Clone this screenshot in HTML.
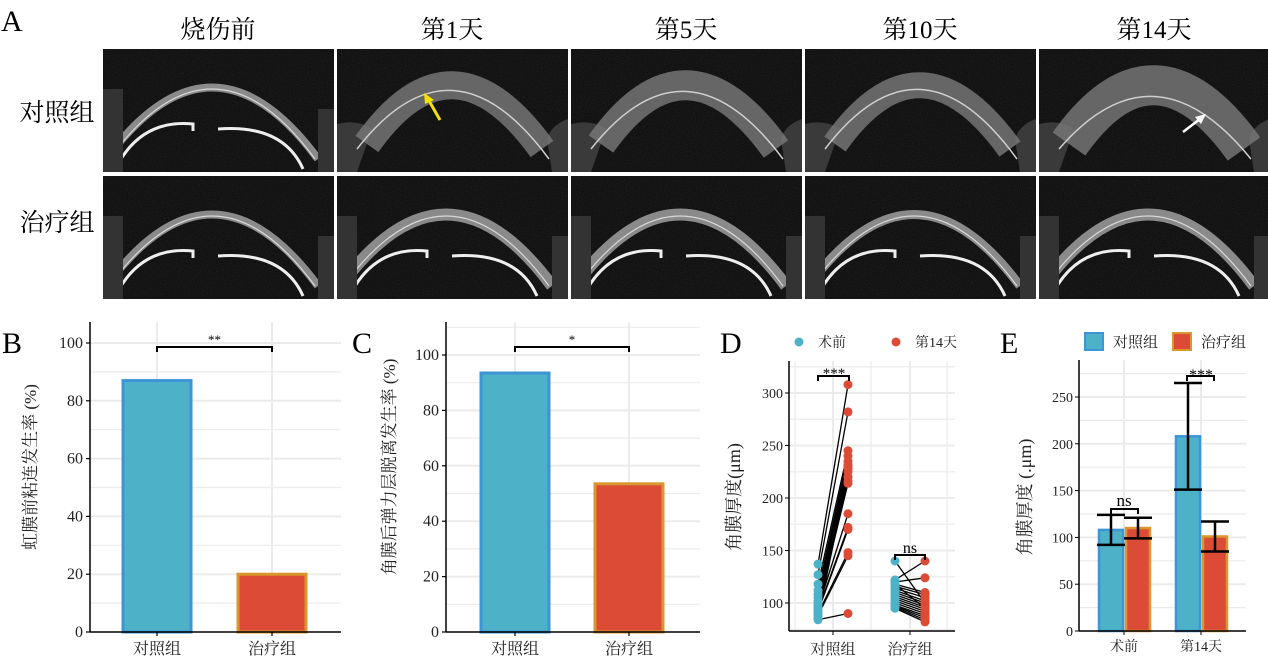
<!DOCTYPE html>
<html><head><meta charset="utf-8">
<style>
html,body{margin:0;padding:0;background:#fff;}
svg{display:block;font-family:"Liberation Serif","Noto Serif CJK SC","Noto Sans CJK SC",serif;}
</style></head>
<body>
<svg id="fig" width="1268" height="664" viewBox="0 0 1268 664" xmlns="http://www.w3.org/2000/svg">
<defs>
<filter id="noise" x="0" y="0" width="100%" height="100%">
<feTurbulence type="fractalNoise" baseFrequency="0.9" numOctaves="1" seed="3"/>
<feColorMatrix values="0 0 0 0 0.5  0 0 0 0 0.5  0 0 0 0 0.5  0 0 0 0.14 0"/>
<feComposite in2="SourceGraphic" operator="in"/>
</filter>
</defs>
<g id="panelA"></g>
<g id="panelB"></g>
<g id="panelC"></g>
<g id="panelD"></g>
<g id="panelE"></g>
</svg>
<script>
// ---------- data ----------
const groupsBC = ["对照组","治疗组"];
const valuesB = [87, 20];
const valuesC = [93.5, 53.5];
const ticksB = [0,20,40,60,80,100];
const ticksC = [0,20,40,60,80,100];
const groupsD = ["对照组","治疗组"];
const ctrlPre  = [137,127,118,112,108,105,102,100,98,96,95,93,92,90,88,86,85,84];
const ctrlPost = [308,282,245,240,235,232,228,220,216,214,185,172,170,148,145,230,225,90];
const trtPre   = [140,122,120,118,116,114,112,110,108,106,104,102,100,98,97,96,95,118];
const trtPost  = [100,140,124,110,108,105,102,100,98,96,94,92,90,88,86,84,82,95];
const ticksD = [100,150,200,250,300];
const groupsE = ["术前","第14天"];
const meanCtrlE = [108, 208];
const sdCtrlE = [16, 57];
const meanTrtE = [110, 101];
const sdTrtE = [11, 16];
const ticksE = [0,50,100,150,200,250];

const NS="http://www.w3.org/2000/svg";
function mk(parent, tag, attrs, text){
  const e=document.createElementNS(NS,tag);
  for(const k in attrs) e.setAttribute(k,attrs[k]);
  if(text!==undefined) e.textContent=text;
  parent.appendChild(e); return e;
}
const BLUE="#4db2c8", BLUE_S="#3d94d6", RED="#dc4b36", RED_S="#d9972c", GRID="#ebebeb";

// ---------- Panel A ----------
const A=document.getElementById('panelA');
let t=mk(A,'text',{x:1,y:31,'font-size':30});t.textContent="A";

const heads=["烧伤前","第1天","第5天","第10天","第14天"];
const colX=[103,337,571,805,1039];
heads.forEach((h,i)=>{
  const e=mk(A,'text',{x:colX[i]+115,y:38,'font-size':25,'text-anchor':'middle'},h);
  
  
});
[["对照组",112],["治疗组",222]].forEach(r=>{
  const e=mk(A,'text',{x:57,y:r[1]+9,'font-size':25,'text-anchor':'middle'},r[0]);
  
  
});
const rowY=[49,176];
const thick=[[6,28,30,26,40],[6,10,10,7,10]];
rowY.forEach((ry,r)=>{
  colX.forEach((cx,c)=>{
    const g=mk(A,'g',{transform:`translate(${cx},${ry})`});
    
    
    mk(g,'rect',{x:0,y:0,width:231,height:123,fill:'#080808'});
    mk(g,'rect',{x:0,y:0,width:231,height:123,fill:'#fff',filter:'url(#noise)'});
    const th=thick[r][c];
    if(r===0 && c>0){
      mk(g,'path',{d:`M 0 75 Q 20 70 35 80 L 20 123 L 0 123 Z`,fill:'#3a3a3a'});
      mk(g,'path',{d:`M 231 70 Q 215 75 210 90 L 215 123 L 231 123 Z`,fill:'#3a3a3a'});
      mk(g,'path',{d:`M 30 95 Q 115 -25 205 100`,fill:'none',stroke:'#7a7a7a','stroke-width':th,'stroke-opacity':0.8});
      mk(g,'path',{d:`M 20 100 Q 115 -${50-th} 212 110`,fill:'none',stroke:'#cfcfcf','stroke-width':1.5});
    } else {
      mk(g,'path',{d:`M 15 95 Q 115 -25 215 110`,fill:'none',stroke:'#8a8a8a','stroke-width':th+2});
      mk(g,'path',{d:`M 18 95 Q 115 -22 212 110`,fill:'none',stroke:'#d8d8d8','stroke-width':1.2});
      mk(g,'path',{d:`M 15 115 Q 40 70 90 75 L 90 82 M 115 80 Q 180 75 200 120`,fill:'none',stroke:'#eeeeee','stroke-width':3});
      mk(g,'rect',{x:0,y:40,width:20,height:83,fill:'#333'});
      mk(g,'rect',{x:215,y:60,width:16,height:63,fill:'#333'});
    }
  });
});
mk(A,'line',{x1:440,y1:120,x2:428,y2:99,stroke:'#f5e000','stroke-width':3});
mk(A,'path',{d:'M 424 93 L 434 100 L 425 104 Z',fill:'#f5e000'});
mk(A,'line',{x1:1183,y1:132,x2:1200,y2:119,stroke:'#fff','stroke-width':2.5});
mk(A,'path',{d:'M 1206 114 L 1201 124 L 1195 117 Z',fill:'#fff'});

// ---------- generic bar chart for B, C ----------
function barChart(gid, letter, letterX, ax, right, y0, y100, vals, ticks, title, titleX, sig, gx){
  const G=document.getElementById(gid);
  const ys=v=>y0-(y0-y100)*v/100;
  let e=mk(G,'text',{x:letterX,y:353,'font-size':30},letter);
  
  for(let v=10; v<=ticks[ticks.length-1]+10; v+=10){
    if(ys(v)<322) break;
    mk(G,'line',{x1:ax,x2:right,y1:ys(v),y2:ys(v),stroke:GRID,'stroke-width':v%20===0?2:1.2});
  }
  gx.forEach(x=>mk(G,'line',{x1:x,x2:x,y1:322,y2:y0,stroke:GRID,'stroke-width':2}));
  vals.forEach((v,i)=>{
    const r=mk(G,'rect',{x:gx[i]-34,y:ys(v),width:68,height:y0-ys(v),fill:i?RED:BLUE,stroke:i?RED_S:BLUE_S,'stroke-width':3});
    
    
  });
  mk(G,'line',{x1:ax,x2:ax,y1:322,y2:y0,stroke:'#000','stroke-width':1.5});
  mk(G,'line',{x1:ax,x2:right,y1:y0,y2:y0,stroke:'#000','stroke-width':1.5});
  ticks.forEach(v=>{
    mk(G,'line',{x1:ax-4,x2:ax,y1:ys(v),y2:ys(v),stroke:'#000','stroke-width':1.2});
    const tl=mk(G,'text',{x:ax-7,y:ys(v)+5,'font-size':16,'text-anchor':'end',fill:'#222'},String(v));
    
  });
  groupsBC.forEach((g,i)=>{
    mk(G,'line',{x1:gx[i],x2:gx[i],y1:y0,y2:y0+4,stroke:'#000','stroke-width':1.2});
    const tl=mk(G,'text',{x:gx[i],y:y0+22,'font-size':16,'text-anchor':'middle',fill:'#222'},g);
    
  });
  const tt=mk(G,'text',{x:titleX,y:467,'font-size':17,'text-anchor':'middle',transform:`rotate(-90 ${titleX} 467)`,fill:'#222'},title);
  
  mk(G,'path',{d:`M ${gx[0]} 352 L ${gx[0]} 347 L ${gx[1]} 347 L ${gx[1]} 352`,fill:'none',stroke:'#000','stroke-width':2});
  const st=mk(G,'text',{x:(gx[0]+gx[1])/2,y:344,'font-size':13,'text-anchor':'middle'},sig);
  
}
barChart('panelB','B',2,90,341,632,343,valuesB,ticksB,'虹膜前粘连发生率 (%)',36,'**',[157,272]);
barChart('panelC','C',352,446,700,632,355,valuesC,ticksC,'角膜后弹力层脱离发生率 (%)',395,'*',[515,629]);

// ---------- Panel D ----------
(function(){
  const G=document.getElementById('panelD');
  const ax=789, right=955, y0=631, top=361;
  const ys=v=>603-(v-100)*1.05;
  const gx=[833,910], off=15;
  let e=mk(G,'text',{x:720,y:353,'font-size':30},'D');
  
  for(let v=75; v<=325; v+=25){ if(ys(v)>y0||ys(v)<top) continue;
    mk(G,'line',{x1:ax,x2:right,y1:ys(v),y2:ys(v),stroke:GRID,'stroke-width':v%50===0?2:1.2});}
  [795,gx[0],871,gx[1],947].forEach((x,i)=>mk(G,'line',{x1:x,x2:x,y1:top,y2:y0,stroke:GRID,'stroke-width':i%2?2:1.2}));
  const sets=[[ctrlPre,ctrlPost],[trtPre,trtPost]];
  sets.forEach((s,gi)=>{
    s[0].forEach((v,k)=>{
      const l=mk(G,'line',{x1:gx[gi]-off,y1:ys(v),x2:gx[gi]+off,y2:ys(s[1][k]),stroke:'#000','stroke-width':1.3});
      
    });
    s[0].forEach(v=>{const c=mk(G,'circle',{cx:gx[gi]-off,cy:ys(v),r:4.5,fill:BLUE});
      });
    s[1].forEach(v=>{const c=mk(G,'circle',{cx:gx[gi]+off,cy:ys(v),r:4.5,fill:RED});
      });
  });
  mk(G,'line',{x1:ax,x2:ax,y1:top,y2:y0,stroke:'#000','stroke-width':1.5});
  mk(G,'line',{x1:ax,x2:right,y1:y0,y2:y0,stroke:'#000','stroke-width':1.5});
  ticksD.forEach(v=>{
    mk(G,'line',{x1:ax-4,x2:ax,y1:ys(v),y2:ys(v),stroke:'#000'});
    const tl=mk(G,'text',{x:ax-6,y:ys(v)+5,'font-size':14,'text-anchor':'end',fill:'#222'},String(v));
    
  });
  groupsD.forEach((g,i)=>{
    mk(G,'line',{x1:gx[i],x2:gx[i],y1:y0,y2:y0+4,stroke:'#000'});
    const tl=mk(G,'text',{x:gx[i],y:y0+23,'font-size':15,'text-anchor':'middle',fill:'#222'},g);
    
  });
  const tt=mk(G,'text',{x:740,y:497,'font-size':18,'text-anchor':'middle',transform:'rotate(-90 740 497)',fill:'#222'},'角膜厚度(μm)');
  
  mk(G,'path',{d:'M 818 381 L 818 376 L 849 376 L 849 381',fill:'none',stroke:'#000','stroke-width':2});
  mk(G,'path',{d:'M 895 560 L 895 555 L 925 555 L 925 560',fill:'none',stroke:'#000','stroke-width':2});
  let s=mk(G,'text',{x:834,y:378,'font-size':15,'text-anchor':'middle'},'***');
  
  s=mk(G,'text',{x:910,y:553,'font-size':16,'text-anchor':'middle'},'ns');
  
  const l1=mk(G,'g',{});
  mk(l1,'circle',{cx:799,cy:342,r:4.5,fill:BLUE});
  mk(l1,'text',{x:818,y:347,'font-size':14,fill:'#222'},'术前');
  const l2=mk(G,'g',{});
  mk(l2,'circle',{cx:896,cy:342,r:4.5,fill:RED});
  mk(l2,'text',{x:915,y:347,'font-size':14,fill:'#222'},'第14天');
})();

// ---------- Panel E ----------
(function(){
  const G=document.getElementById('panelE');
  const ax=1079, right=1246, y0=631, top=360;
  const ys=v=>y0-v*0.936;
  const gx=[1124,1201];
  let e=mk(G,'text',{x:1000,y:353,'font-size':30},'E');
  
  for(let v=25; v<=275; v+=25){ if(ys(v)<top) continue;
    mk(G,'line',{x1:ax,x2:right,y1:ys(v),y2:ys(v),stroke:GRID,'stroke-width':v%50===0?2:1.2});}
  gx.forEach(x=>mk(G,'line',{x1:x,x2:x,y1:top,y2:y0,stroke:GRID,'stroke-width':2}));
  groupsE.forEach((g,i)=>{
    const b1=mk(G,'rect',{x:gx[i]-25,y:ys(meanCtrlE[i]),width:24,height:y0-ys(meanCtrlE[i]),fill:BLUE,stroke:BLUE_S,'stroke-width':2.5});
    
    const b2=mk(G,'rect',{x:gx[i]+2,y:ys(meanTrtE[i]),width:24,height:y0-ys(meanTrtE[i]),fill:RED,stroke:RED_S,'stroke-width':2.5});
    
    [[gx[i]-13,meanCtrlE[i],sdCtrlE[i]],[gx[i]+14,meanTrtE[i],sdTrtE[i]]].forEach(q=>{
      const eb=mk(G,'path',{d:`M ${q[0]} ${ys(q[1]-q[2])} L ${q[0]} ${ys(q[1]+q[2])} M ${q[0]-14} ${ys(q[1]-q[2])} L ${q[0]+14} ${ys(q[1]-q[2])} M ${q[0]-14} ${ys(q[1]+q[2])} L ${q[0]+14} ${ys(q[1]+q[2])}`,fill:'none',stroke:'#000','stroke-width':2.5});
      
    });
  });
  mk(G,'line',{x1:ax,x2:ax,y1:top,y2:y0,stroke:'#000','stroke-width':1.5});
  mk(G,'line',{x1:ax,x2:right,y1:y0,y2:y0,stroke:'#000','stroke-width':1.5});
  ticksE.forEach(v=>{
    mk(G,'line',{x1:ax-4,x2:ax,y1:ys(v),y2:ys(v),stroke:'#000'});
    const tl=mk(G,'text',{x:ax-6,y:ys(v)+5,'font-size':14,'text-anchor':'end',fill:'#222'},String(v));
    
  });
  groupsE.forEach((g,i)=>{
    mk(G,'line',{x1:gx[i],x2:gx[i],y1:y0,y2:y0+4,stroke:'#000'});
    const tl=mk(G,'text',{x:gx[i],y:y0+20,'font-size':14,'text-anchor':'middle',fill:'#222'},g);
    
  });
  const tt=mk(G,'text',{x:1031,y:497,'font-size':18,'text-anchor':'middle',transform:'rotate(-90 1031 497)',fill:'#222'},'角膜厚度 (.μm)');
  
  mk(G,'path',{d:'M 1111 514 L 1111 509 L 1138 509 L 1138 514',fill:'none',stroke:'#000','stroke-width':2});
  mk(G,'path',{d:'M 1187 381 L 1187 376 L 1214 376 L 1214 381',fill:'none',stroke:'#000','stroke-width':2});
  let s=mk(G,'text',{x:1124,y:506,'font-size':17,'text-anchor':'middle'},'ns');
  
  s=mk(G,'text',{x:1201,y:380,'font-size':16,'text-anchor':'middle'},'***');
  
  const l1=mk(G,'g',{});
  mk(l1,'rect',{x:1085,y:333,width:18,height:17,fill:BLUE,stroke:BLUE_S,'stroke-width':2});
  mk(l1,'text',{x:1113,y:347,'font-size':15,fill:'#222'},'对照组');
  const l2=mk(G,'g',{});
  mk(l2,'rect',{x:1173,y:333,width:18,height:17,fill:RED,stroke:RED_S,'stroke-width':2});
  mk(l2,'text',{x:1201,y:347,'font-size':15,fill:'#222'},'治疗组');
})();
</script>
</body></html>
